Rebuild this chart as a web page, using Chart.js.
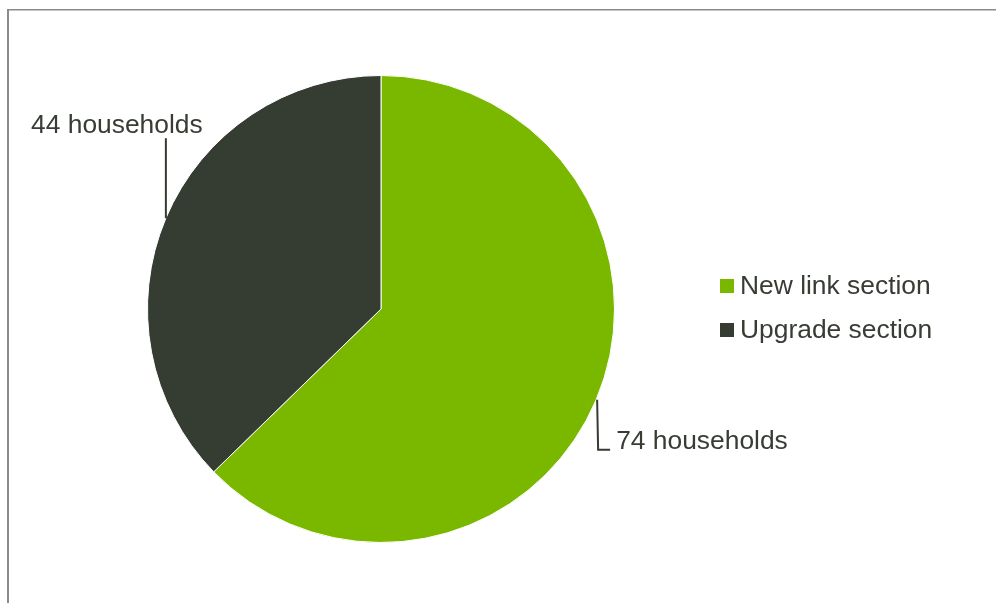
<!DOCTYPE html>
<html>
<head>
<meta charset="utf-8">
<title>Households by section</title>
<script src="https://cdn.jsdelivr.net/npm/chart.js@4/dist/chart.umd.min.js"></script>
<style>
  html, body { margin: 0; padding: 0; background: #fff; }
  #wrap { position: relative; width: 996px; height: 603px; }
</style>
</head>
<body>
<div id="wrap"><canvas id="pie" width="996" height="603"></canvas></div>
<script>
// data
const sections = ["New link section", "Upgrade section"];
const households = [74, 44];
const sliceColors = ["#7ab800", "#353c31"];

const TEXT = "#373c34";
const FONT = '26.4px "Liberation Sans", Arial, sans-serif';

// frame lines (top + left) like the exported chart box
const framePlugin = {
  id: "frame",
  beforeDraw(chart) {
    const c = chart.ctx;
    c.save();
    c.fillStyle = "#8a8a8a";
    c.fillRect(7, 9, chart.width - 7, 1.5);
    c.fillRect(7, 9, 2, chart.height - 9);
    c.restore();
  },
};

// "NN households" labels with leader lines off each slice's mid angle
const leaderLabels = {
  id: "leaderLabels",
  afterDatasetsDraw(chart) {
    const c = chart.ctx;
    const meta = chart.getDatasetMeta(0);
    c.save();
    c.font = FONT;
    c.fillStyle = TEXT;
    c.strokeStyle = "#353c31";
    c.lineWidth = 2;
    meta.data.forEach((arc, i) => {
      const mid = (arc.startAngle + arc.endAngle) / 2;
      const ex = arc.x + Math.cos(mid) * arc.outerRadius;
      const ey = arc.y + Math.sin(mid) * arc.outerRadius;
      const txt = `${households[i]} households`;
      c.beginPath();
      if (ey < arc.y) {
        // label above the slice, line straight up
        c.moveTo(ex, ey);
        c.lineTo(ex, ey - 80);
        c.stroke();
        c.textAlign = "center";
        c.textBaseline = "alphabetic";
        c.fillText(txt, ex - 49, ey - 85);
      } else {
        // label below-right, elbow line
        c.moveTo(ex + 1, ey);
        c.lineTo(ex + 2, ey + 50);
        c.lineTo(ex + 14, ey + 50);
        c.stroke();
        c.textAlign = "left";
        c.textBaseline = "alphabetic";
        c.fillText(txt, ex + 20, ey + 49);
      }
    });
    c.restore();
  },
};

// legend to the right of the pie
const sideLegend = {
  id: "sideLegend",
  afterDraw(chart) {
    const c = chart.ctx;
    const area = chart.chartArea;
    const cy = (area.top + area.bottom) / 2;
    const x0 = area.right + 105;
    const gap = 44;
    c.save();
    c.font = FONT;
    c.textBaseline = "middle";
    c.textAlign = "left";
    sections.forEach((name, i) => {
      const y = cy - gap / 2 + i * gap;
      c.fillStyle = sliceColors[i];
      c.fillRect(x0, y - 8, 14, 14);
      c.fillStyle = TEXT;
      c.fillText(name, x0 + 20, y);
    });
    c.restore();
  },
};

new Chart(document.getElementById("pie"), {
  type: "pie",
  data: {
    labels: sections,
    datasets: [{
      data: households,
      backgroundColor: sliceColors,
      borderColor: "#ffffff",
      borderWidth: 1,
    }],
  },
  options: {
    responsive: false,
    animation: false,
    layout: { padding: { left: 147, right: 381, top: 75, bottom: 60 } },
    plugins: {
      legend: { display: false },
      tooltip: { enabled: false },
    },
  },
  plugins: [framePlugin, leaderLabels, sideLegend],
});
</script>
</body>
</html>
